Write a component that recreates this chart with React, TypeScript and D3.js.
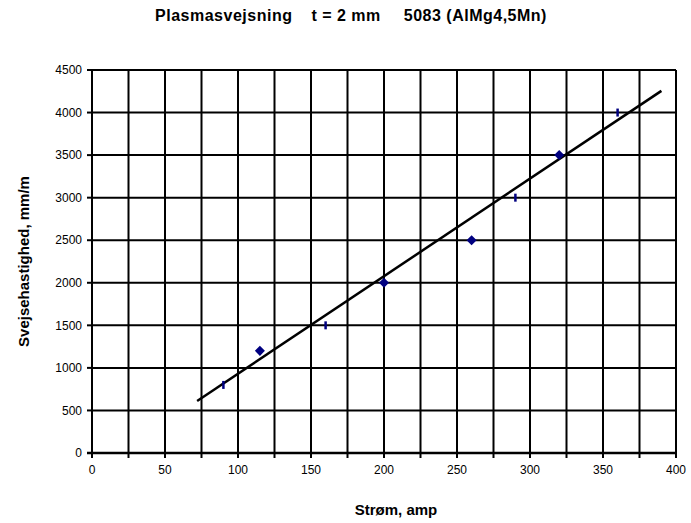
import React, { useRef, useEffect } from 'react';
import * as d3 from 'd3';

// Measured points (diamond series)
const diamondX = [115, 200, 260, 320];
const diamondY = [1200, 2000, 2500, 3500];
// Second series, drawn as short vertical dashes
const dashX = [90, 160, 290, 360];
const dashY = [800, 1500, 3000, 4000];
// Trendline end points
const trendX = [72, 390];
const trendY = [610, 4255];

const xTicks = [0, 50, 100, 150, 200, 250, 300, 350, 400];
const yTicks = [0, 500, 1000, 1500, 2000, 2500, 3000, 3500, 4000, 4500];

const titleParts = ['Plasmasvejsning', 't = 2 mm', '5083 (AlMg4,5Mn)'];
const xTitle = 'Strøm, amp';
const yTitle = 'Svejsehastighed, mm/m';

export default function App() {
  const ref = useRef<SVGSVGElement>(null);

  useEffect(() => {
    const el = ref.current;
    if (!el) return;
    const svg = d3.select(el);
    svg.selectAll('*').remove();

    const W = 691;
    const H = 523;
    const margin = { top: 70, right: 15, bottom: 70, left: 92 };
    const font = 'Arial, "Liberation Sans", sans-serif';

    const x = d3.scaleLinear().domain([0, 400]).range([margin.left, W - margin.right]);
    const y = d3.scaleLinear().domain([0, 4500]).range([H - margin.bottom, margin.top]);

    svg.append('rect').attr('width', W).attr('height', H).attr('fill', '#fff');

    // grid
    const g = svg.append('g');
    d3.range(0, 401, 25).forEach((v) => {
      g.append('line')
        .attr('x1', x(v)).attr('x2', x(v))
        .attr('y1', y(0)).attr('y2', y(4500))
        .attr('stroke', '#000').attr('stroke-width', 2);
      g.append('line')
        .attr('x1', x(v)).attr('x2', x(v))
        .attr('y1', y(0)).attr('y2', y(0) + 5)
        .attr('stroke', '#000').attr('stroke-width', 2);
    });
    yTicks.forEach((v) => {
      g.append('line')
        .attr('x1', x(0)).attr('x2', x(400))
        .attr('y1', y(v)).attr('y2', y(v))
        .attr('stroke', '#000').attr('stroke-width', 2);
      g.append('line')
        .attr('x1', x(0) - 5).attr('x2', x(0))
        .attr('y1', y(v)).attr('y2', y(v))
        .attr('stroke', '#000').attr('stroke-width', 2);
    });
    // bottom axis a bit heavier
    g.append('line')
      .attr('x1', x(0) - 5).attr('x2', x(400) + 1)
      .attr('y1', y(0)).attr('y2', y(0))
      .attr('stroke', '#000').attr('stroke-width', 2.5);

    // tick labels
    svg.append('g').selectAll('text').data(xTicks).enter().append('text')
      .attr('x', (d) => x(d)).attr('y', y(0) + 21)
      .attr('text-anchor', 'middle')
      .attr('font-family', font).attr('font-size', 12)
      .text((d) => d);
    svg.append('g').selectAll('text').data(yTicks).enter().append('text')
      .attr('x', x(0) - 10).attr('y', (d) => y(d)).attr('dy', '0.35em')
      .attr('text-anchor', 'end')
      .attr('font-family', font).attr('font-size', 12)
      .text((d) => d);

    // trendline
    svg.append('line')
      .attr('x1', x(trendX[0])).attr('y1', y(trendY[0]))
      .attr('x2', x(trendX[1])).attr('y2', y(trendY[1]))
      .attr('stroke', '#000').attr('stroke-width', 2.5);

    // diamonds
    const diamond = d3.symbol().type(d3.symbolDiamond2).size(64);
    svg.append('g').selectAll('path').data(diamondX).enter().append('path')
      .attr('d', diamond)
      .attr('transform', (d, i) => `translate(${x(d)},${y(diamondY[i])})`)
      .attr('fill', '#000080');

    // dashes
    svg.append('g').selectAll('line').data(dashX).enter().append('line')
      .attr('x1', (d) => x(d)).attr('x2', (d) => x(d))
      .attr('y1', (d, i) => y(dashY[i]) - 4).attr('y2', (d, i) => y(dashY[i]) + 4)
      .attr('stroke', '#000080').attr('stroke-width', 2.5);

    // title: three parts with wide gaps between them
    const t = svg.append('text')
      .attr('x', 351).attr('y', 21)
      .attr('text-anchor', 'middle')
      .attr('font-family', font).attr('font-size', 16).attr('font-weight', 'bold')
      .attr('letter-spacing', 0.5);
    const gaps = [0, 19, 23];
    titleParts.forEach((p, i) => {
      t.append('tspan').attr('dx', gaps[i]).text(p);
    });

    svg.append('text')
      .attr('x', 396).attr('y', 515)
      .attr('text-anchor', 'middle')
      .attr('font-family', font).attr('font-size', 15).attr('font-weight', 'bold')
      .text(xTitle);
    svg.append('text')
      .attr('transform', `translate(29,${(y(0) + y(4500)) / 2}) rotate(-90)`)
      .attr('text-anchor', 'middle')
      .attr('font-family', font).attr('font-size', 15).attr('font-weight', 'bold')
      .text(yTitle);
  }, []);

  return (
    <svg
      ref={ref}
      width={691}
      height={523}
      style={{ position: 'absolute', left: 0, top: 0, display: 'block' }}
    />
  );
}
